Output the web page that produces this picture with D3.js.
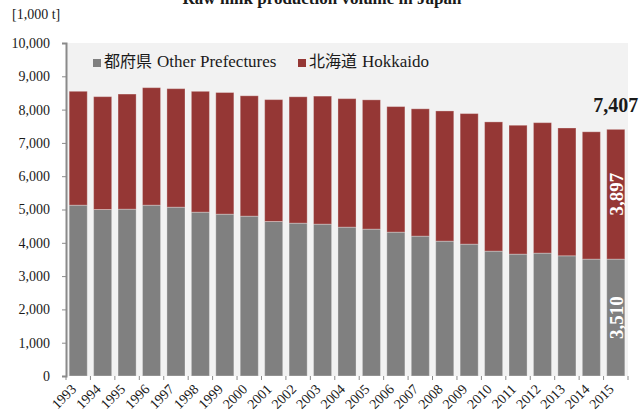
<!DOCTYPE html>
<html>
<head>
<meta charset="utf-8">
<script src="https://cdn.jsdelivr.net/npm/d3@7"></script>
<style>
  body { margin: 0; background: #fff; }
  text { font-family: "Liberation Serif", "Times New Roman", serif; fill: #1a1a1a; }
</style>
</head>
<body>
<div id="chart"></div>
<script>
// Data: raw milk production, 1,000 t
const years = ["1993","1994","1995","1996","1997","1998","1999","2000","2001","2002","2003","2004",
               "2005","2006","2007","2008","2009","2010","2011","2012","2013","2014","2015"];
const otherPrefectures = [5130,5000,5010,5130,5070,4920,4860,4800,4640,4590,4560,4470,
                          4410,4320,4200,4050,3960,3750,3660,3690,3610,3510,3510];
const hokkaido = [3420,3389,3457,3529,3559,3629,3653,3615,3660,3795,3845,3859,
                  3883,3771,3824,3910,3921,3881,3870,3918,3838,3824,3897];
const yTicks = [0,1000,2000,3000,4000,5000,6000,7000,8000,9000,10000];
const seriesJa = ["都府県", "北海道"];
const seriesEn = ["Other Prefectures", "Hokkaido"];
const colors = ["#808080", "#953735"];

const margin = {top: 43, right: 16, bottom: 42, left: 66},
      width = 644 - margin.left - margin.right,
      height = 418 - margin.top - margin.bottom;

const svgRoot = d3.select("#chart").append("svg")
    .attr("width", 644).attr("height", 418);

// Title (its top is cut by the frame, as in the original)
svgRoot.append("text")
    .attr("x", 322).attr("y", 4)
    .attr("text-anchor", "middle")
    .style("font-weight", "bold").style("font-size", "17px")
    .text("Raw milk production volume in Japan");

svgRoot.append("text")
    .attr("x", 12).attr("y", 19)
    .style("font-size", "14px")
    .text("[1,000 t]");

const svg = svgRoot.append("g")
    .attr("transform", `translate(${margin.left},${margin.top})`);

svg.append("rect")
    .attr("width", width).attr("height", height)
    .attr("fill", "#f2f2f2");

const x = d3.scaleBand().domain(years).range([0, width]).paddingInner(0.26).paddingOuter(0.13);
const y = d3.scaleLinear().domain([0, 10000]).range([height, 0]);

const rows = years.map((yr, i) => ({year: yr, other: otherPrefectures[i], hokkaido: hokkaido[i]}));
const stack = d3.stack().keys(["other", "hokkaido"])(rows);

svg.selectAll("g.series")
  .data(stack)
  .join("g")
    .attr("class", "series")
    .attr("fill", (d, i) => colors[i])
  .selectAll("rect")
  .data(d => d)
  .join("rect")
    .attr("x", d => x(d.data.year))
    .attr("y", d => y(d[1]))
    .attr("width", x.bandwidth())
    .attr("height", d => y(d[0]) - y(d[1]))
    .attr("stroke", "#ffffff")
    .attr("stroke-opacity", 0.3)
    .attr("stroke-width", 1);

// Y axis
const yAxis = svg.append("g")
    .call(d3.axisLeft(y).tickValues(yTicks).tickSize(4).tickPadding(12).tickFormat(d3.format(",")));
yAxis.select(".domain").attr("stroke", "#8a8a8a").attr("stroke-width", 2);
yAxis.selectAll(".tick line").attr("stroke", "#8a8a8a");
yAxis.selectAll(".tick text")
    .style("font-family", "'Liberation Serif', serif").style("font-size", "14px").attr("fill", "#1a1a1a");

// X axis: ticks at band boundaries, rotated labels
const step = x.step();
const xAxis = svg.append("g").attr("transform", `translate(0,${height})`);
xAxis.selectAll("line")
  .data(years.concat(["end"]))
  .join("line")
    .attr("x1", (d, i) => i * step).attr("x2", (d, i) => i * step)
    .attr("y1", 0).attr("y2", 4)
    .attr("stroke", "#8a8a8a");
xAxis.selectAll("text")
  .data(years)
  .join("text")
    .attr("transform", d => `translate(${x(d) + x.bandwidth() / 2 - 1},${14}) rotate(-45)`)
    .attr("text-anchor", "end")
    .style("font-size", "14px")
    .text(d => d);

// Legend
const legendX = [27, 232];
seriesJa.forEach((ja, i) => {
  const lg = svg.append("g").attr("transform", `translate(${legendX[i]},16)`);
  lg.append("rect").attr("width", 8).attr("height", 8).attr("fill", colors[i]);
  const tJa = lg.append("text").attr("x", 11).attr("y", 8)
      .style("font-family", "'Noto Sans CJK JP', sans-serif").style("font-size", "16px")
      .text(ja);
  const w = tJa.node().getComputedTextLength();
  lg.append("text").attr("x", 11 + w + 5).attr("y", 8)
      .style("font-family", "'Liberation Serif', serif").style("font-size", "17px")
      .text(seriesEn[i]);
});

// Annotations on the last bar
const last = rows[rows.length - 1];
const lx = x(last.year) + x.bandwidth() / 2;
svg.append("text")
    .attr("x", lx).attr("y", y(last.other + last.hokkaido) - 17)
    .attr("text-anchor", "middle")
    .style("font-weight", "bold").style("font-size", "20px")
    .text(d3.format(",")(last.other + last.hokkaido));

[[last.other, last.other / 2], [last.hokkaido, last.other + last.hokkaido / 2]].forEach(([v, mid]) => {
  svg.append("text")
      .attr("transform", `translate(${lx + 7},${y(mid)}) rotate(-90)`)
      .attr("text-anchor", "middle")
      .style("fill", "#ffffff")
      .style("font-weight", "bold").style("font-size", "19px")
      .text(d3.format(",")(v));
});
</script>
</body>
</html>
